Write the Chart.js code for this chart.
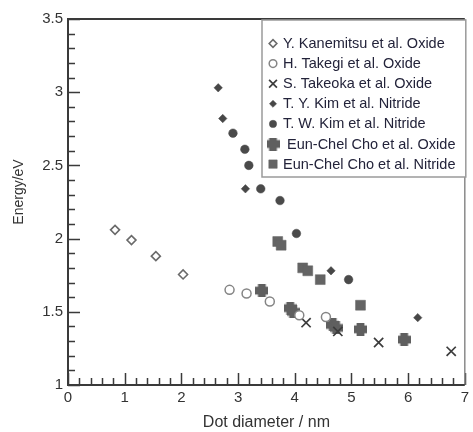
<!DOCTYPE html>
<html>
<head>
<meta charset="utf-8">
<script src="https://cdn.jsdelivr.net/npm/chart.js"></script>
<style>
  html, body { margin: 0; padding: 0; background: #fff; }
  #wrap { width: 473px; height: 432px; }
</style>
</head>
<body>
<div id="wrap"><canvas id="chart" width="473" height="432"></canvas></div>
<script>
// Band-gap energy vs. silicon dot diameter, grouped by source
const seriesLabels = [
    'Y. Kanemitsu et al. Oxide',
    'H. Takegi et al. Oxide',
    'S. Takeoka et al. Oxide',
    'T. Y. Kim et al. Nitride',
    'T. W. Kim et al. Nitride',
    'Eun-Chel Cho et al. Oxide',
    'Eun-Chel Cho et al. Nitride'
];

const kanemitsuX = [0.83, 1.12, 1.55, 2.03];
const kanemitsuY = [2.06, 1.99, 1.88, 1.755];

const takegiX = [2.85, 3.15, 3.56, 4.08, 4.55];
const takegiY = [1.65, 1.625, 1.57, 1.476, 1.465];

const takeokaX = [4.20, 4.76, 5.48, 6.76];
const takeokaY = [1.426, 1.366, 1.29, 1.23];

const tyKimX = [2.65, 2.73, 3.13, 4.64, 6.17];
const tyKimY = [3.03, 2.82, 2.34, 1.78, 1.46];

const twKimX = [2.91, 3.12, 3.19, 3.40, 3.74, 4.03, 4.95];
const twKimY = [2.72, 2.61, 2.50, 2.34, 2.26, 2.035, 1.72];

const choOxideX = [3.42, 3.92, 3.97, 4.67, 4.73, 5.16, 5.93];
const choOxideY = [1.645, 1.525, 1.50, 1.41, 1.39, 1.38, 1.31];

const choNitrideX = [3.70, 3.76, 4.14, 4.23, 4.45, 5.16];
const choNitrideY = [1.98, 1.955, 1.80, 1.78, 1.72, 1.545];

const xTicks = [0, 1, 2, 3, 4, 5, 6, 7];
const yTicks = [1, 1.5, 2, 2.5, 3, 3.5];

const xTitle = 'Dot diameter / nm';
const yTitle = 'Energy/eV';

function pairs(xs, ys) {
    return xs.map(function (x, i) { return { x: x, y: ys[i] }; });
}

// chunky plus marker used for the Cho oxide points
function blobCross(size, color) {
    const c = document.createElement('canvas');
    c.width = size;
    c.height = size;
    const g = c.getContext('2d');
    const h = size / 2, a = size * 0.3;
    g.fillStyle = color;
    g.beginPath();
    g.arc(h, h, h * 0.78, 0, Math.PI * 2);
    g.fill();
    g.fillRect(h - a, 0, 2 * a, size);
    g.fillRect(0, h - a, size, 2 * a);
    return c;
}

const crossImg = blobCross(13, '#5f5f5f');

const datasets = [
    { data: pairs(kanemitsuX, kanemitsuY), pointStyle: 'rectRot', radius: 4.5,
      backgroundColor: '#fff', borderColor: '#6a6a6a', borderWidth: 1.6 },
    { data: pairs(takegiX, takegiY), pointStyle: 'circle', radius: 4.5,
      backgroundColor: '#fff', borderColor: '#858585', borderWidth: 1.5 },
    { data: pairs(takeokaX, takeokaY), pointStyle: 'crossRot', radius: 6.5,
      backgroundColor: '#3c3c3c', borderColor: '#3c3c3c', borderWidth: 1.7 },
    { data: pairs(tyKimX, tyKimY), pointStyle: 'rectRot', radius: 4.2,
      backgroundColor: '#474747', borderColor: '#474747', borderWidth: 0.5 },
    { data: pairs(twKimX, twKimY), pointStyle: 'circle', radius: 4.3,
      backgroundColor: '#4a4a4a', borderColor: '#4a4a4a', borderWidth: 0.5 },
    { data: pairs(choOxideX, choOxideY), pointStyle: crossImg, radius: 6.5,
      backgroundColor: '#5f5f5f', borderColor: '#5f5f5f', borderWidth: 0 },
    { data: pairs(choNitrideX, choNitrideY), pointStyle: 'rect', radius: 7,
      backgroundColor: '#646464', borderColor: '#646464', borderWidth: 0.5 }
].map(function (d, i) {
    d.label = seriesLabels[i];
    d.pointRadius = d.radius;
    d.pointHoverRadius = d.radius;
    return d;
});

const fontFamily = '"Liberation Sans", Arial, sans-serif';

// frame plus inward major/minor ticks
const frameTicks = {
    id: 'frameTicks',
    beforeDatasetsDraw: function (chart) {
        const ctx = chart.ctx, a = chart.chartArea;
        const xs = chart.scales.x, ys = chart.scales.y;
        ctx.save();
        ctx.strokeStyle = '#3a3a3a';
        ctx.lineWidth = 1.5;
        ctx.beginPath();
        for (let v = 1; v <= 3.5001; v += 0.1) {
            const p = Math.round(ys.getPixelForValue(v)) + 0.5;
            const major = Math.abs(v * 2 - Math.round(v * 2)) < 1e-6;
            ctx.moveTo(a.left, p);
            ctx.lineTo(a.left + (major ? 12 : 7), p);
        }
        for (let v = 0; v <= 7.0001; v += 0.2) {
            const p = Math.round(xs.getPixelForValue(v)) + 0.5;
            const major = Math.abs(v - Math.round(v)) < 1e-6;
            ctx.moveTo(p, a.bottom);
            ctx.lineTo(p, a.bottom - (major ? 12 : 7));
        }
        ctx.stroke();
        // right edge is lighter than the axes
        ctx.strokeStyle = '#8a8a8a';
        ctx.lineWidth = 1.5;
        ctx.beginPath();
        ctx.moveTo(a.right, a.top);
        ctx.lineTo(a.right, a.bottom);
        ctx.stroke();
        ctx.strokeStyle = '#3a3a3a';
        ctx.lineWidth = 2;
        ctx.beginPath();
        ctx.moveTo(a.right, a.top);
        ctx.lineTo(a.left, a.top);
        ctx.lineTo(a.left, a.bottom);
        ctx.lineTo(a.right, a.bottom);
        ctx.stroke();

        // y title sits a little above the middle of the axis
        ctx.fillStyle = '#333';
        ctx.font = '14px ' + fontFamily;
        ctx.textAlign = 'center';
        ctx.textBaseline = 'middle';
        ctx.translate(19, 192);
        ctx.rotate(-Math.PI / 2);
        ctx.fillText(yTitle, 0, 0);
        ctx.restore();
    }
};

// boxed legend tucked into the top-right corner
const boxLegend = {
    id: 'boxLegend',
    afterDraw: function (chart) {
        const ctx = chart.ctx, a = chart.chartArea;
        const left = 262, top = a.top + 1, right = a.right + 1, bottom = 177;
        ctx.save();
        ctx.fillStyle = '#fff';
        ctx.fillRect(left, top, right - left, bottom - top);
        ctx.strokeStyle = '#9a9a9a';
        ctx.lineWidth = 1.5;
        ctx.strokeRect(left, top, right - left, bottom - top);
        ctx.font = '14.5px ' + fontFamily;
        ctx.textBaseline = 'middle';
        chart.data.datasets.forEach(function (ds, i) {
            const y = 43.5 + i * 20.1;
            const x = 273;
            ctx.fillStyle = ds.backgroundColor;
            ctx.strokeStyle = ds.borderColor;
            ctx.lineWidth = ds.borderWidth;
            const r = typeof ds.pointStyle === 'string' ? ds.radius * 0.85 : ds.radius;
            Chart.helpers.drawPoint(ctx, {
                pointStyle: ds.pointStyle, radius: r, rotation: 0, borderWidth: ds.borderWidth
            }, x, y);
            ctx.fillStyle = '#23233a';
            ctx.fillText(ds.label, typeof ds.pointStyle === 'string' ? 283 : 287, y + 0.5);
        });
        ctx.restore();
    }
};

new Chart(document.getElementById('chart'), {
    type: 'scatter',
    data: { datasets: datasets },
    options: {
        responsive: false,
        animation: false,
        layout: { padding: { top: 19, right: 4, left: 0, bottom: 0 } },
        plugins: {
            legend: { display: false },
            tooltip: { enabled: false }
        },
        scales: {
            x: {
                type: 'linear',
                min: 0,
                max: 7,
                afterFit: function (s) { s.height = 47; },
                afterBuildTicks: function (s) {
                    s.ticks = xTicks.map(function (v) { return { value: v }; });
                },
                border: { display: false },
                grid: { display: false, drawTicks: false },
                ticks: {
                    padding: 4,
                    color: '#333',
                    font: { family: fontFamily, size: 15 },
                    maxRotation: 0,
                    callback: function (v) { return String(v); }
                },
                title: {
                    display: true,
                    text: xTitle,
                    color: '#333',
                    font: { family: fontFamily, size: 16 },
                    padding: { top: 0, bottom: 0 }
                }
            },
            y: {
                type: 'linear',
                min: 1,
                max: 3.5,
                afterFit: function (s) { s.width = 68; },
                afterBuildTicks: function (s) {
                    s.ticks = yTicks.map(function (v) { return { value: v }; });
                },
                border: { display: false },
                grid: { display: false, drawTicks: false },
                ticks: {
                    padding: 5,
                    color: '#333',
                    font: { family: fontFamily, size: 15 },
                    callback: function (v) { return String(v); }
                },
                title: { display: false }
            }
        }
    },
    plugins: [frameTicks, boxLegend]
});
</script>
</body>
</html>
